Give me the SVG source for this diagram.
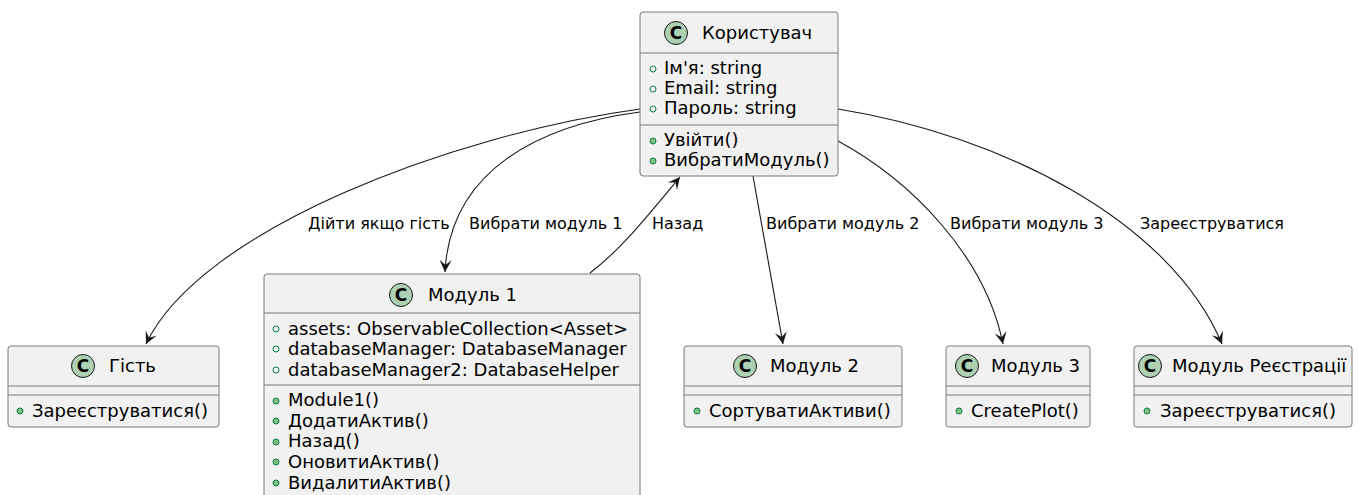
<svg xmlns="http://www.w3.org/2000/svg" width="1358" height="495" viewBox="0 0 1358 495">
<style>
.box{fill:#F1F1F1;stroke:#7a7a7a;stroke-width:1}
.sep{stroke:#7a7a7a;stroke-width:1}
.ci{fill:#ADD1B2;stroke:#181818;stroke-width:1}
.cl{font-family:"DejaVu Sans",sans-serif;font-size:17px;font-weight:bold;fill:#000;text-anchor:middle}
.tt{font-family:"DejaVu Sans",sans-serif;font-size:18px;fill:#000}
.mb{font-family:"DejaVu Sans",sans-serif;font-size:18px;fill:#000}
.fld{fill:none;stroke:#038048;stroke-width:1}
.mth{fill:#84BE84;stroke:#038048;stroke-width:1}
.edge{fill:none;stroke:#181818;stroke-width:1.1}
.lbl{font-family:"DejaVu Sans",sans-serif;font-size:16px;fill:#000}
</style>
<defs>
<marker id="arr" viewBox="-13 -7 14 14" refX="0" refY="0" markerWidth="14" markerHeight="14" markerUnits="userSpaceOnUse" orient="auto">
<path d="M0,0 L-12,-6 L-7,0 L-12,6 Z" fill="#181818"/>
</marker>
</defs>

<g id="connectors">
<path class="edge" d="M640,109 C450,135 200,230 146,344" marker-end="url(#arr)"/>
<path class="edge" d="M640,112 C540,125 450,170 445,272" marker-end="url(#arr)"/>
<path class="edge" d="M590,273 C620,250 640,225 680,177" marker-end="url(#arr)"/>
<path class="edge" d="M753,176 L783,344" marker-end="url(#arr)"/>
<path class="edge" d="M838,141 C910,180 985,255 1003,344" marker-end="url(#arr)"/>
<path class="edge" d="M838,109 C1000,135 1170,220 1222,344" marker-end="url(#arr)"/>
<text class="lbl" x="308" y="229">Дійти якщо гість</text>
<text class="lbl" x="469" y="229">Вибрати модуль 1</text>
<text class="lbl" x="652" y="229">Назад</text>
<text class="lbl" x="766" y="229">Вибрати модуль 2</text>
<text class="lbl" x="950" y="229">Вибрати модуль 3</text>
<text class="lbl" x="1140" y="229">Зареєструватися</text>
</g>

<g id="user">
<rect class="box" x="640" y="12" width="198" height="164" rx="3"/>
<circle class="ci" cx="676" cy="33" r="11.5"/>
<text class="cl" x="676" y="39">C</text>
<text class="tt" x="702" y="39">Користувач</text>
<line class="sep" x1="640" y1="53" x2="838" y2="53"/>
<circle class="fld" cx="653" cy="69" r="3"/>
<text class="mb" x="664" y="74">Ім'я: string</text>
<circle class="fld" cx="653" cy="89" r="3"/>
<text class="mb" x="664" y="94">Email: string</text>
<circle class="fld" cx="653" cy="109" r="3"/>
<text class="mb" x="664" y="114">Пароль: string</text>
<line class="sep" x1="640" y1="125" x2="838" y2="125"/>
<circle class="mth" cx="653" cy="141" r="3"/>
<text class="mb" x="664" y="146">Увійти()</text>
<circle class="mth" cx="653" cy="161" r="3"/>
<text class="mb" x="664" y="166">ВибратиМодуль()</text>
</g>

<g id="guest">
<rect class="box" x="8" y="346" width="211" height="81" rx="3"/>
<circle class="ci" cx="83" cy="366" r="11.5"/>
<text class="cl" x="83" y="372">C</text>
<text class="tt" x="109" y="372">Гість</text>
<line class="sep" x1="8" y1="386" x2="219" y2="386"/>
<line class="sep" x1="8" y1="395" x2="219" y2="395"/>
<circle class="mth" cx="20" cy="411" r="3"/>
<text class="mb" x="32" y="417">Зареєструватися()</text>
</g>

<g id="module1">
<rect class="box" x="264" y="274" width="376" height="240" rx="3"/>
<circle class="ci" cx="401" cy="295" r="11.5"/>
<text class="cl" x="401" y="301">C</text>
<text class="tt" x="428" y="301">Модуль 1</text>
<line class="sep" x1="264" y1="313" x2="640" y2="313"/>
<circle class="fld" cx="276" cy="329" r="3"/>
<text class="mb" x="288" y="335">assets: ObservableCollection&lt;Asset&gt;</text>
<circle class="fld" cx="276" cy="349" r="3"/>
<text class="mb" x="288" y="355">databaseManager: DatabaseManager</text>
<circle class="fld" cx="276" cy="370" r="3"/>
<text class="mb" x="288" y="376">databaseManager2: DatabaseHelper</text>
<line class="sep" x1="264" y1="385" x2="640" y2="385"/>
<circle class="mth" cx="276" cy="401" r="3"/>
<text class="mb" x="288" y="406">Module1()</text>
<circle class="mth" cx="276" cy="421" r="3"/>
<text class="mb" x="288" y="427">ДодатиАктив()</text>
<circle class="mth" cx="276" cy="442" r="3"/>
<text class="mb" x="288" y="447">Назад()</text>
<circle class="mth" cx="276" cy="462" r="3"/>
<text class="mb" x="288" y="468">ОновитиАктив()</text>
<circle class="mth" cx="276" cy="483" r="3"/>
<text class="mb" x="288" y="489">ВидалитиАктив()</text>
</g>

<g id="module2">
<rect class="box" x="684" y="346" width="218" height="81" rx="3"/>
<circle class="ci" cx="745" cy="366" r="11.5"/>
<text class="cl" x="745" y="372">C</text>
<text class="tt" x="770" y="372">Модуль 2</text>
<line class="sep" x1="684" y1="386" x2="902" y2="386"/>
<line class="sep" x1="684" y1="395" x2="902" y2="395"/>
<circle class="mth" cx="697" cy="411" r="3"/>
<text class="mb" x="709" y="417">СортуватиАктиви()</text>
</g>

<g id="module3">
<rect class="box" x="946" y="346" width="144" height="81" rx="3"/>
<circle class="ci" cx="967" cy="366" r="11.5"/>
<text class="cl" x="967" y="372">C</text>
<text class="tt" x="991" y="372">Модуль 3</text>
<line class="sep" x1="946" y1="386" x2="1090" y2="386"/>
<line class="sep" x1="946" y1="395" x2="1090" y2="395"/>
<circle class="mth" cx="959" cy="411" r="3"/>
<text class="mb" x="971" y="417">CreatePlot()</text>
</g>

<g id="registration">
<rect class="box" x="1134" y="346" width="218" height="81" rx="3"/>
<circle class="ci" cx="1150" cy="366" r="11.5"/>
<text class="cl" x="1150" y="372">C</text>
<text class="tt" x="1172" y="372">Модуль Реєстрації</text>
<line class="sep" x1="1134" y1="386" x2="1352" y2="386"/>
<line class="sep" x1="1134" y1="395" x2="1352" y2="395"/>
<circle class="mth" cx="1147" cy="411" r="3"/>
<text class="mb" x="1160" y="417">Зареєструватися()</text>
</g>
</svg>
